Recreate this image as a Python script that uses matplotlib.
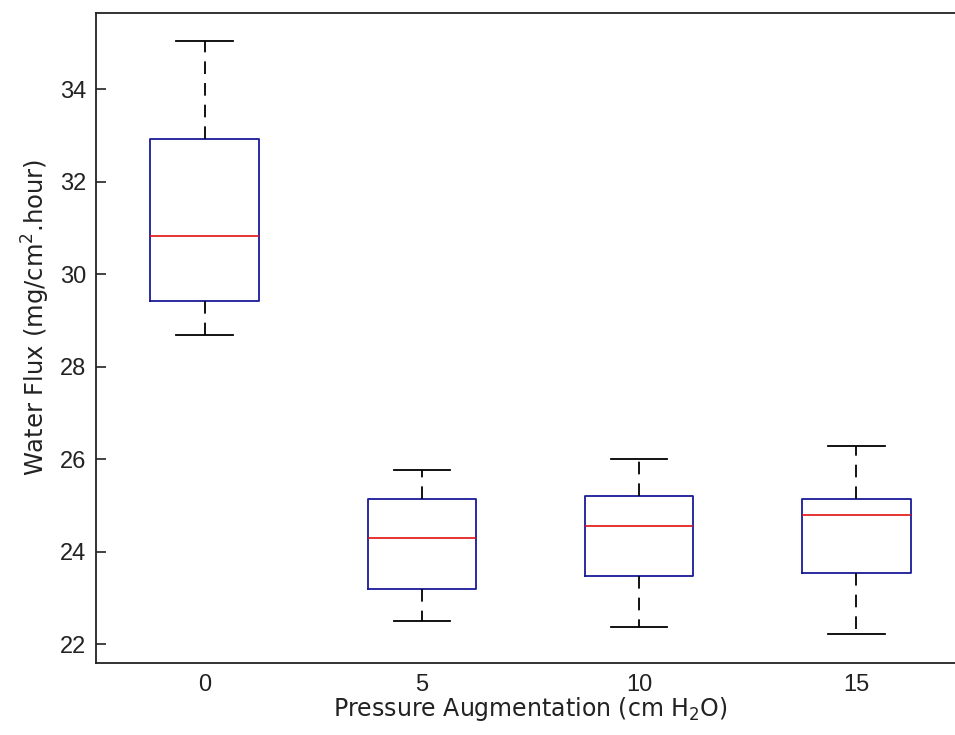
import matplotlib
matplotlib.use("Agg")
import matplotlib.pyplot as plt

plt.rcParams['font.family'] = ['Liberation Sans', 'DejaVu Sans']
plt.rcParams['mathtext.fontset'] = 'dejavusans'

# значення
groups = ['0', '5', '10', '15']
whisker_low = [28.68, 22.50, 22.37, 22.22]
q1 = [29.42, 23.21, 23.49, 23.54]
medians = [30.84, 24.31, 24.57, 24.79]
q3 = [32.92, 25.14, 25.22, 25.14]
whisker_high = [35.04, 25.78, 26.00, 26.30]
y_ticks = [22, 24, 26, 28, 30, 32, 34]

stats = []
for i, g in enumerate(groups):
    stats.append({'label': g, 'whislo': whisker_low[i], 'q1': q1[i], 'med': medians[i],
                  'q3': q3[i], 'whishi': whisker_high[i], 'fliers': []})

fig = plt.figure(figsize=(9.55, 7.35), dpi=100)
ax = fig.add_axes([96 / 955, 72 / 735, 869 / 955, 650 / 735])

ax.bxp(stats, positions=range(1, len(groups) + 1), widths=0.5, showfliers=False,
       boxprops=dict(color='#1a1a99', linewidth=1.3),
       medianprops=dict(color='#e01010', linewidth=1.2),
       whiskerprops=dict(color='black', linewidth=1.3, linestyle=(0, (7, 5))),
       capprops=dict(color='black', linewidth=1.3), capwidths=0.26)

ax.set_xlim(0.5, 4.5)
ax.set_ylim(21.6, 35.65)
ax.set_yticks(y_ticks)
ax.set_xticks(range(1, len(groups) + 1))
ax.set_xticklabels(groups)

ax.tick_params(axis='y', direction='in', length=7, width=1.2, pad=7, labelsize=17, colors='#222222')
ax.tick_params(axis='x', length=0, pad=8, labelsize=17, colors='#222222')
for s in ax.spines.values():
    s.set_linewidth(1.3)
    s.set_color('#222222')

ax.set_xlabel('Pressure Augmentation (cm H$_2$O)', fontsize=17, labelpad=-1,
              color='#222222', family='DejaVu Sans')
ax.set_ylabel('Water Flux (mg/cm$^2$.hour)', fontsize=17.5, labelpad=6,
              color='#222222', family='DejaVu Sans')
ax.yaxis.label.set_y(0.532)

fig.savefig('out.png', dpi=100)
